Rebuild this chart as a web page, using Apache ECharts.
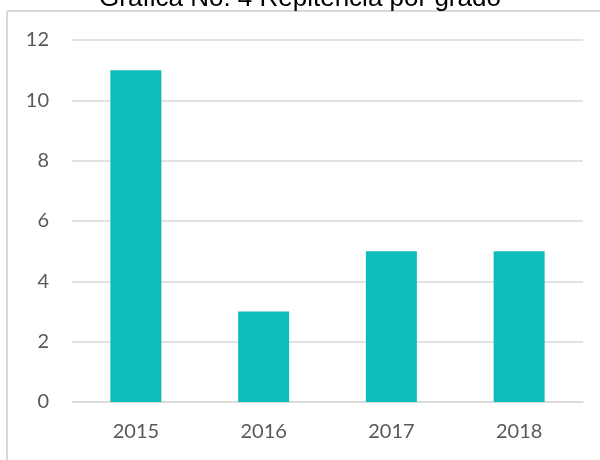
<!DOCTYPE html>
<html>
<head>
<meta charset="utf-8">
<script src="https://cdn.jsdelivr.net/npm/echarts@6/dist/echarts.min.js"></script>
<style>
html,body{margin:0;padding:0;background:#fff;}
#c{width:600px;height:460px;}
</style>
</head>
<body>
<div id="c"></div>
<script>
var categories = ['2015', '2016', '2017', '2018'];
var values = [11, 3, 5, 5];
var yTicks = [0, 2, 4, 6, 8, 10, 12];
var titleText = 'Grafica No. 4 Repitencia por grado';

var chart = echarts.init(document.getElementById('c'), null, {renderer: 'canvas'});
chart.setOption({
  animation: false,
  backgroundColor: '#ffffff',
  title: {
    text: titleText,
    left: 'center',
    top: -14,
    padding: 0,
    textStyle: {fontFamily: 'Liberation Sans, Arial', fontSize: 26, fontWeight: 'normal', color: '#000000', lineHeight: 26}
  },
  graphic: [
    {type: 'line', shape: {x1: 7, y1: 11, x2: 600, y2: 11}, style: {stroke: '#d9d9d9', lineWidth: 2}, z: -1},
    {type: 'line', shape: {x1: 7, y1: 11, x2: 7, y2: 460}, style: {stroke: '#d9d9d9', lineWidth: 2}, z: -1}
  ],
  grid: {left: 72, right: 17, top: 40, bottom: 58, containLabel: false},
  xAxis: {
    type: 'category',
    data: categories,
    axisLine: {show: true, lineStyle: {color: '#d9d9d9', width: 1.5}},
    axisTick: {show: false},
    axisLabel: {color: '#595959', fontFamily: 'Lato', fontSize: 20, margin: 20}
  },
  yAxis: {
    type: 'value',
    min: yTicks[0],
    max: yTicks[yTicks.length - 1],
    interval: yTicks[1] - yTicks[0],
    axisLine: {show: false},
    axisTick: {show: false},
    splitLine: {show: true, lineStyle: {color: '#d9d9d9', width: 1.5}},
    axisLabel: {color: '#595959', fontFamily: 'Lato', fontSize: 20, margin: 23}
  },
  series: [{
    type: 'bar',
    data: values,
    barWidth: 51,
    itemStyle: {color: '#0ebcbc'}
  }]
});
</script>
</body>
</html>
